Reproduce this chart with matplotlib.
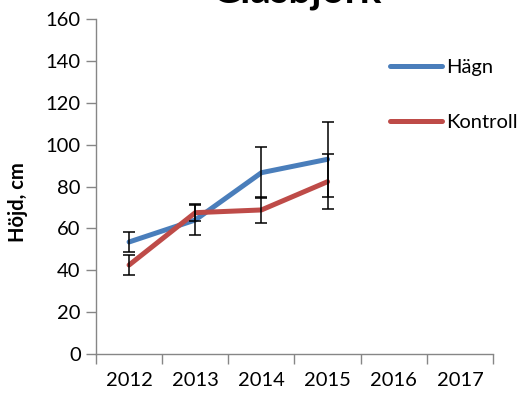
import matplotlib
matplotlib.use("Agg")
import matplotlib.pyplot as plt
import numpy as np

plt.rcParams['font.family'] = ['Lato', 'DejaVu Sans']

years = ["2012", "2013", "2014", "2015", "2016", "2017"]
hagn = [53.5, 64, 86.6, 93]
hagn_err = [5, 7, 12.2, 18]
kontroll = [42.5, 67.5, 68.8, 82.3]
kontroll_err = [5, 4, 6.3, 13]

blue = "#4A7EBB"
red = "#BE4B48"
axis_gray = "#868686"

fig = plt.figure(figsize=(5.31, 4.04), dpi=100)
ax = fig.add_axes([96 / 531, 50 / 404, 397 / 531, 335 / 404])

x = np.arange(len(hagn))
ax.plot(x, hagn, color=blue, lw=3.6, solid_capstyle="round", label="Hägn", zorder=2)
ax.plot(x, kontroll, color=red, lw=3.6, solid_capstyle="round", label="Kontroll", zorder=3)
ax.errorbar(x, hagn, yerr=hagn_err, fmt="none", ecolor="black", elinewidth=1.1,
            capsize=4.3, capthick=1.1, zorder=4)
ax.errorbar(x, kontroll, yerr=kontroll_err, fmt="none", ecolor="black", elinewidth=1.1,
            capsize=4.3, capthick=1.1, zorder=4)

ax.set_xlim(-0.5, len(years) - 0.5)
ax.set_ylim(0, 160)
ax.set_yticks(np.arange(0, 161, 20))
ax.set_xticks(np.arange(len(years)))
ax.set_xticklabels(years)
ax.set_xticks(np.arange(len(years) + 1) - 0.5, minor=True)
ax.tick_params(axis="x", which="major", length=0, labelsize=14.5, pad=13)
ax.tick_params(axis="x", which="minor", length=7, color=axis_gray, width=1.0, direction="out")
ax.tick_params(axis="y", length=7, color=axis_gray, width=1.0, labelsize=14.5, pad=4)

for side in ("top", "right"):
    ax.spines[side].set_visible(False)
for side in ("left", "bottom"):
    ax.spines[side].set_color(axis_gray)
    ax.spines[side].set_linewidth(1.0)

ax.set_ylabel("Höjd, cm", fontsize=14.5, fontweight="bold")
ax.yaxis.set_label_coords(28 / 531, 0.5, transform=fig.transFigure)

leg = ax.legend(loc="upper left", bbox_to_anchor=(390 / 531, 1 - 59 / 404),
                bbox_transform=fig.transFigure, frameon=False, fontsize=14.5,
                handlelength=2.6, handletextpad=0.2, labelspacing=1.88,
                borderaxespad=0, borderpad=0)

fig.text(297 / 531, 1 - 3 / 404, "Glasbjörk", ha="center", va="baseline",
         fontsize=29, fontweight="bold")

fig.savefig("out.png", dpi=100)
